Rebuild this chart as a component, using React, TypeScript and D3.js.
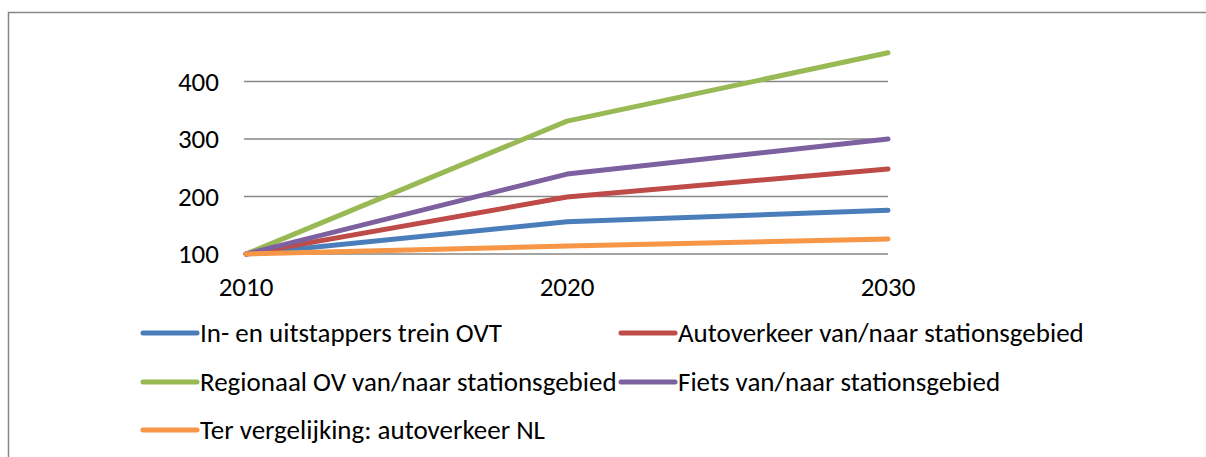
import React from "react";
import * as d3 from "d3";

const years = [2010, 2020, 2030];
const yTicks = [100, 200, 300, 400];
const seriesNames = [
  "In- en uitstappers trein OVT",
  "Autoverkeer van/naar stationsgebied",
  "Regionaal OV van/naar stationsgebied",
  "Fiets van/naar stationsgebied",
  "Ter vergelijking: autoverkeer NL",
];
const treinOVT = [100, 156, 176];
const autoStation = [100, 199, 248];
const regionaalOV = [100, 331, 450];
const fiets = [100, 239, 300];
const autoNL = [100, 114, 126];
const seriesValues = [treinOVT, autoStation, regionaalOV, fiets, autoNL];
const colors = ["#4A7EBB", "#BE4B48", "#98B954", "#7D60A0", "#F79646"];

const W = 1206;
const H = 457;
const FONT = "Carlito, Calibri, 'Liberation Sans', sans-serif";
const FS = 27;

export default function App() {
  const x = d3.scalePoint<number>().domain(years).range([246, 888]);
  const y = d3.scaleLinear().domain([100, 450]).range([254, 52.75]);
  const line = d3
    .line<number>()
    .x((_, i) => x(years[i]) as number)
    .y((d) => y(d));

  const legendPos = [
    { lx: 143, ly: 333, lw: 54 },
    { lx: 621, ly: 333, lw: 54 },
    { lx: 143, ly: 382, lw: 54 },
    { lx: 621, ly: 382, lw: 54 },
    { lx: 143, ly: 430, lw: 54 },
  ];

  return (
    <svg
      width={W}
      height={H}
      style={{ position: "absolute", left: 0, top: 0, background: "#fff" }}
      fontFamily={FONT}
    >
      <rect x={8.5} y={12.5} width={W + 10} height={H + 10} fill="#fff" stroke="#868686" strokeWidth={1.5} />
      {yTicks.map((t) => (
        <g key={t}>
          <line x1={244} x2={888} y1={y(t)} y2={y(t)} stroke="#868686" strokeWidth={1.5} />
          <text x={219} y={y(t) + 9} textAnchor="end" fontSize={FS} fill="#000">
            {t}
          </text>
        </g>
      ))}
      {years.map((yr) => (
        <text key={yr} x={x(yr) as number} y={296} textAnchor="middle" fontSize={FS} fill="#000">
          {yr}
        </text>
      ))}
      {seriesValues.map((vals, i) => (
        <path
          key={i}
          d={line(vals) as string}
          fill="none"
          stroke={colors[i]}
          strokeWidth={5}
          strokeLinecap="round"
          strokeLinejoin="round"
        />
      ))}
      {seriesNames.map((name, i) => {
        const p = legendPos[i];
        return (
          <g key={name}>
            <line
              x1={p.lx}
              x2={p.lx + p.lw}
              y1={p.ly}
              y2={p.ly}
              stroke={colors[i]}
              strokeWidth={5}
              strokeLinecap="round"
            />
            <text x={p.lx + p.lw + 3} y={p.ly + 9} fontSize={FS} fill="#000">
              {name}
            </text>
          </g>
        );
      })}
    </svg>
  );
}
